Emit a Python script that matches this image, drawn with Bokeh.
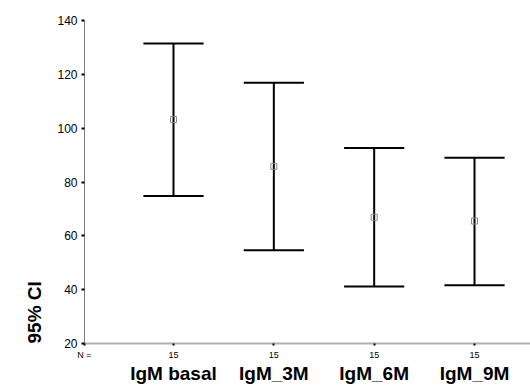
from bokeh.plotting import figure
from bokeh.models import Range1d, FixedTicker, LinearAxis, ColumnDataSource, Title
from bokeh.embed import file_html
from bokeh.resources import INLINE

categories = ["IgM basal", "IgM_3M", "IgM_6M", "IgM_9M"]
n_values = [15, 15, 15, 15]
upper = [131.5, 116.9, 92.6, 89.0]
lower = [74.8, 54.6, 41.2, 41.6]
means = [103.2, 85.8, 66.9, 65.5]
y_ticks = [20, 40, 60, 80, 100, 120, 140]

xs = list(range(1, len(categories) + 1))
half_cap = 0.3
src = ColumnDataSource(dict(
    x=xs, lo=lower, hi=upper, m=means,
    xl=[x - half_cap for x in xs], xr=[x + half_cap for x in xs],
))

FONT = "Liberation Sans"
x_start = 0.113
x_end = 4.558

p = figure(width=530, height=386, output_backend="svg", toolbar_location=None,
           x_range=Range1d(x_start, x_end), y_range=Range1d(20, 140),
           min_border_left=84, min_border_right=0, min_border_top=20,
           min_border_bottom=43, x_axis_location=None)
p.outline_line_color = None
p.xgrid.visible = False
p.ygrid.visible = False
p.background_fill_color = "white"
p.border_fill_color = "white"

# y axis
ya = p.yaxis[0]
ya.ticker = FixedTicker(ticks=y_ticks)
ya.minor_tick_line_color = None
ya.axis_line_color = "#808080"
ya.axis_line_width = 1
ya.major_tick_line_color = "black"
ya.major_tick_line_width = 2
ya.major_tick_in = 0
ya.major_tick_out = 3
ya.major_label_standoff = 4
ya.major_label_text_font = FONT
ya.major_label_text_font_size = "12px"
ya.major_label_text_color = "black"

# x axis with N values
n_ticks = [x_start] + xs
ax1 = LinearAxis(ticker=FixedTicker(ticks=n_ticks),
                 major_label_overrides={**{x_start: "N ="},
                                        **{x: str(n) for x, n in zip(xs, n_values)}})
ax1.axis_line_color = "#b0b0b0"
ax1.axis_line_width = 2
ax1.major_tick_line_color = "black"
ax1.major_tick_line_width = 2
ax1.major_tick_in = 0
ax1.major_tick_out = 2
ax1.minor_tick_line_color = None
ax1.major_label_standoff = 4
ax1.major_label_text_font = FONT
ax1.major_label_text_font_size = "9px"
ax1.major_label_text_color = "black"
p.add_layout(ax1, "below")

# x axis with category names
ax2 = LinearAxis(ticker=FixedTicker(ticks=xs),
                 major_label_overrides={x: c for x, c in zip(xs, categories)})
ax2.axis_line_color = None
ax2.major_tick_line_color = None
ax2.minor_tick_line_color = None
ax2.major_label_standoff = -6
ax2.major_label_text_font = FONT
ax2.major_label_text_font_style = "bold"
ax2.major_label_text_font_size = "19px"
ax2.major_label_text_color = "black"
p.add_layout(ax2, "below")

# y label as a left title aligned to the bottom
p.add_layout(Title(text="95% CI", align="left", text_font=FONT, text_font_style="bold",
                   text_font_size="19px", text_color="black", standoff=20), "left")

# error bars
p.segment(x0="x", y0="lo", x1="x", y1="hi", source=src, line_color="black", line_width=2)
p.segment(x0="xl", y0="hi", x1="xr", y1="hi", source=src, line_color="black", line_width=2)
p.segment(x0="xl", y0="lo", x1="xr", y1="lo", source=src, line_color="black", line_width=2)
p.scatter(x="x", y="m", source=src, marker="square", size=6, fill_color=None,
          line_color="#888888", line_width=1)

open("out.html", "w").write(file_html(p, INLINE))
